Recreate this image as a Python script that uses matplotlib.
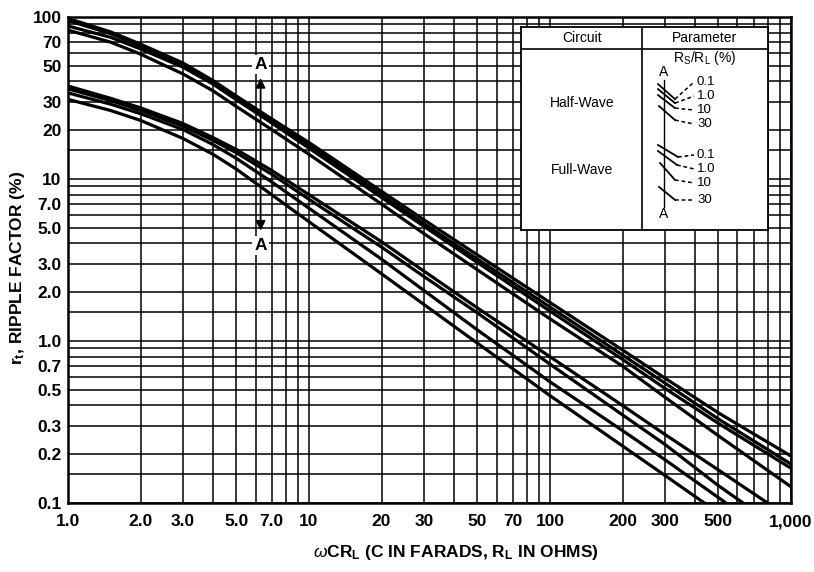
import matplotlib
matplotlib.use('Agg')
import matplotlib.pyplot as plt
from matplotlib import font_manager
from matplotlib.ticker import FixedLocator, NullFormatter

# Liberation Sans is close to the Helvetica of the original print
names = {f.name for f in font_manager.fontManager.ttflist}
font = 'Liberation Sans' if 'Liberation Sans' in names else 'DejaVu Sans'

plt.rcParams['mathtext.fontset'] = 'custom'
plt.rcParams['mathtext.rm'] = font + ':bold'
plt.rcParams['mathtext.bf'] = font + ':bold'
plt.rcParams['mathtext.it'] = font + ':italic'
plt.rcParams['mathtext.sf'] = font

# values (ripple factor in %)
x_pts = [1, 1.5, 2, 3, 4, 5, 7, 10, 20, 30, 50, 100, 200, 300, 500, 1000]

hw_01 = [98, 81, 68, 52, 40.5, 32.5, 23.5, 16.8, 8.4, 5.6, 3.4, 1.73, 0.88, 0.59, 0.36, 0.195]
hw_1 = [95, 79, 66, 50.5, 39.5, 31.5, 22.8, 16.1, 8.0, 5.3, 3.2, 1.62, 0.82, 0.55, 0.33, 0.174]
hw_10 = [88, 75, 63.5, 49, 38.5, 30.8, 22.2, 15.5, 7.7, 5.1, 3.05, 1.53, 0.77, 0.51, 0.31, 0.164]
hw_30 = [83, 70, 59, 44.5, 35, 28, 20.2, 14.2, 7.0, 4.6, 2.75, 1.37, 0.7, 0.45, 0.26, 0.126]

fw_01 = [37.5, 31.5, 27.5, 22, 18, 15.2, 11.3, 8.0, 4.1, 2.7, 1.6, 0.8, 0.4, 0.265, 0.16, 0.08]
fw_1 = [36, 30.5, 26.5, 21.2, 17.3, 14.5, 10.7, 7.5, 3.8, 2.5, 1.49, 0.72, 0.35, 0.23, 0.128, 0.062]
fw_10 = [34, 29, 25.3, 20.2, 16.3, 13.4, 9.6, 6.6, 3.2, 2.05, 1.17, 0.56, 0.28, 0.185, 0.108, 0.052]
fw_30 = [31, 26.5, 23, 17.8, 14.2, 11.5, 8.0, 5.45, 2.6, 1.68, 0.97, 0.46, 0.225, 0.148, 0.087, 0.042]

x_ticks = [1, 2, 3, 5, 7, 10, 20, 30, 50, 70, 100, 200, 300, 500, 1000]
x_labels = ['1.0', '2.0', '3.0', '5.0', '7.0', '10', '20', '30', '50', '70',
            '100', '200', '300', '500', '1,000']
y_ticks = [0.1, 0.2, 0.3, 0.5, 0.7, 1, 2, 3, 5, 7, 10, 20, 30, 50, 70, 100]
y_labels = ['0.1', '0.2', '0.3', '0.5', '0.7', '1.0', '2.0', '3.0', '5.0', '7.0',
            '10', '20', '30', '50', '70', '100']
rs_labels = ['0.1', '1.0', '10', '30']

# grid lines of the printed log paper
x_grid = [m * 10 ** d for d in range(3) for m in range(1, 10)] + [1000]
y_grid = [m * 10 ** d for d in range(-1, 2) for m in [1, 1.5, 2, 3, 4, 5, 6, 7, 8, 9]] + [100]

fig = plt.figure(figsize=(8.14, 5.72), dpi=100)
ax = fig.add_axes([0.0835, 0.1206, 0.8882, 0.8497])
ax.set_xscale('log')
ax.set_yscale('log')
ax.set_xlim(1, 1000)
ax.set_ylim(0.1, 100)

ax.xaxis.set_major_locator(FixedLocator(x_ticks))
ax.xaxis.set_minor_locator(FixedLocator([v for v in x_grid if v not in x_ticks]))
ax.yaxis.set_major_locator(FixedLocator(y_ticks))
ax.yaxis.set_minor_locator(FixedLocator([v for v in y_grid if v not in y_ticks]))
ax.set_xticklabels(x_labels)
ax.set_yticklabels(y_labels)
ax.xaxis.set_minor_formatter(NullFormatter())
ax.yaxis.set_minor_formatter(NullFormatter())
ax.tick_params(which='both', length=0)
ax.tick_params(axis='x', pad=8)
ax.tick_params(axis='y', pad=4.5)
for lab in ax.get_xticklabels() + ax.get_yticklabels():
    lab.set_fontfamily(font)
    lab.set_fontweight('bold')
    lab.set_fontsize(12.5)
ax.grid(which='both', color='black', lw=1.1)
for sp in ax.spines.values():
    sp.set_linewidth(1.8)

for ys in [hw_01, hw_1, hw_10, hw_30, fw_01, fw_1, fw_10, fw_30]:
    ax.plot(x_pts, ys, color='black', lw=2.3, solid_capstyle='butt', zorder=3)

# A - A marker
ax.annotate('', xy=(6.3, 4.8), xytext=(6.3, 42),
            arrowprops=dict(arrowstyle='<|-|>', color='black', lw=1.3,
                            mutation_scale=14, shrinkA=0, shrinkB=0), zorder=4)
for yv in [51, 3.9]:
    ax.text(6.3, yv, 'A', ha='center', va='center', family=font, weight='bold',
            fontsize=12.5, zorder=5,
            bbox=dict(facecolor='white', edgecolor='none', pad=1.5))

fig.text(456 / 814, 1 - 553 / 572,
         r'$\omega$CR$_\mathrm{L}$ (C IN FARADS, R$_\mathrm{L}$ IN OHMS)',
         family=font, weight='bold', fontsize=12.5, ha='center', va='center')
fig.text(18 / 814, 1 - 268 / 572, r'r$_\mathrm{t}$, RIPPLE FACTOR (%)',
         family=font, weight='bold', fontsize=12.5, ha='center', va='center',
         rotation=90)

# legend table in the upper right
leg = ax.inset_axes([0.627, 0.562, 0.341, 0.417])
leg.set_xlim(0, 1)
leg.set_ylim(0, 1)
leg.set_xticks([])
leg.set_yticks([])
leg.set_facecolor('white')
leg.set_zorder(6)
for sp in leg.spines.values():
    sp.set_linewidth(1.3)


def px(xp, yp):
    # position inside the legend box, measured in picture pixels
    return (xp - 521) / 247, (230 - yp) / 203


leg.axhline(px(0, 49)[1], color='black', lw=1.2)
leg.axvline(px(642, 0)[0], color='black', lw=1.2)
tfont = dict(family=font, fontsize=10, ha='center', va='center')
leg.text(*px(582, 38), 'Circuit', **tfont)
leg.text(*px(705, 38), 'Parameter', **tfont)
leg.text(*px(705, 58), r'R$_\mathsf{S}$/R$_\mathsf{L}$ (%)', **tfont)
leg.text(*px(582, 103), 'Half-Wave', **tfont)
leg.text(*px(582, 170), 'Full-Wave', **tfont)

ax_x, top_y = px(664, 80)
leg.plot([ax_x, ax_x], [top_y, px(0, 207)[1]], color='black', lw=1.0)
leg.text(*px(664, 72), 'A', **tfont)
leg.text(*px(664, 214), 'A', **tfont)

hw_marks = [((658, 84), (675, 99), 82), ((658, 89), (675, 103), 96),
            ((658, 95), (675, 108), 110), ((659, 106), (675, 120), 124)]
fw_marks = [((658, 145), (678, 157), 155), ((658, 151), (677, 165), 169),
            ((660, 163), (675, 180), 183), ((659, 187), (675, 200), 200)]
for marks in [hw_marks, fw_marks]:
    for lab, (p0, p1, ly) in zip(rs_labels, marks):
        a = px(*p0)
        b = px(*p1)
        c = px(694, ly)
        leg.plot([a[0], b[0]], [a[1], b[1]], color='black', lw=1.3)
        leg.plot([b[0], c[0]], [b[1], c[1]], color='black', lw=1.1, ls=(0, (2.5, 1.8)))
        leg.text(px(697, 0)[0], c[1], lab, family=font, fontsize=9.5,
                 ha='left', va='center')

fig.savefig('out.png', dpi=100)
